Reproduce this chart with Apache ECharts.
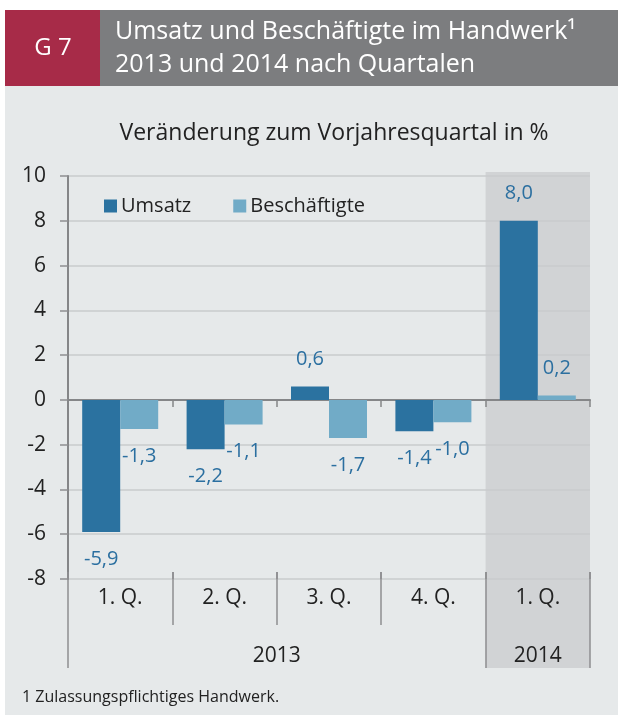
<!DOCTYPE html>
<html><head><meta charset="utf-8">
<script src="https://cdn.jsdelivr.net/npm/echarts@6/dist/echarts.min.js"></script>
<style>html,body{margin:0;padding:0;background:#fff}#c{width:618px;height:715px}</style>
</head><body><div id="c"></div>
<script>
const quarters = ['1. Q.', '2. Q.', '3. Q.', '4. Q.', '1. Q.'];
const years = ['2013', '2014'];
const yearSpans = [4, 1];
const umsatz = [-5.9, -2.2, 0.6, -1.4, 8.0];
const beschaeftigte = [-1.3, -1.1, -1.7, -1.0, 0.2];
const yMin = -8, yMax = 10, yStep = 2;

const FONT = '"Open Sans", "Noto Sans", sans-serif';
const C_UMS = '#2b72a0', C_BES = '#71abc7', C_LBL = '#2b6fa0';
const fmt = v => v.toFixed(1).replace('.', ',');

const yearBounds = [0]; yearSpans.forEach(s => yearBounds.push(yearBounds[yearBounds.length-1] + s));
const yearCenters = years.map((y, i) => (yearBounds[i] + yearBounds[i+1]) / 2);

const chart = echarts.init(document.getElementById('c'), null, {renderer: 'canvas'});
const labelCommon = {show: true, color: C_LBL, fontSize: 20, fontFamily: FONT, formatter: p => fmt(p.value), distance: 17};

const option = {
  animation: false,
  textStyle: {fontFamily: FONT},
  grid: {left: 68, right: 28, top: 176, bottom: 136, containLabel: false, outerBoundsMode: 'none'},
  legend: {
    left: 99, top: 191, itemWidth: 13, itemHeight: 13, itemGap: 42,
    icon: 'rect', textStyle: {fontSize: 20, color: '#222', fontFamily: FONT, padding: [0,0,0,-1]},
    data: ['Umsatz', 'Beschäftigte']
  },
  xAxis: [
    {
      type: 'category', data: quarters.map((q,i)=>q+i), position: 'bottom',
      axisLine: {onZero: true, lineStyle: {color: '#858688', width: 2}},
      axisTick: {show: true, length: 7, lineStyle: {color: '#858688', width: 1.5}},
      axisLabel: {show: false}, splitLine: {show: false}
    },
    {
      type: 'category', data: quarters.map((q,i)=>q+i), position: 'bottom',
      axisLine: {onZero: true, show: false},
      axisTick: {show: true, inside: true, length: 7, lineStyle: {color: '#858688', width: 1.5}},
      axisLabel: {show: false}, splitLine: {show: false}
    },
    {
      type: 'category', data: quarters.map((q,i)=>q+i), position: 'bottom', offset: -7,
      axisLine: {onZero: false, show: false},
      axisTick: {show: true, length: 53, lineStyle: {color: '#8e8f91', width: 1.5}},
      axisLabel: {show: true, margin: 16, fontSize: 21, color: '#222', fontFamily: FONT, formatter: v => v.slice(0, -1)}
    },
    {
      type: 'value', min: 0, max: quarters.length, position: 'bottom',
      axisLine: {onZero: false, show: false},
      axisTick: {show: true, length: 89, customValues: yearBounds, lineStyle: {color: '#8e8f91', width: 1.5}},
      axisLabel: {show: true, margin: 67, fontSize: 21, color: '#222', fontFamily: FONT,
        customValues: yearCenters, formatter: v => years[yearCenters.indexOf(v)] || ''},
      splitLine: {show: false}
    }
  ],
  yAxis: {
    type: 'value', min: yMin, max: yMax, interval: yStep,
    axisLine: {show: true, onZero: false, lineStyle: {color: '#858688', width: 2}},
    axisTick: {show: true, length: 8, lineStyle: {color: '#8e8f91', width: 1.5}},
    axisLabel: {margin: 22, fontSize: 21, color: '#222', fontFamily: FONT},
    splitLine: {show: true, lineStyle: {color: '#c8cbcd', width: 1.5}}
  },
  series: [
    {name: 'Umsatz', type: 'bar', data: umsatz, barWidth: 38, barGap: '0%', itemStyle: {color: C_UMS},
      label: Object.assign({}, labelCommon, {position: 'outside'}), z: 3},
    {name: 'Beschäftigte', type: 'bar', data: beschaeftigte, barWidth: 38, barGap: '0%', itemStyle: {color: C_BES},
      label: Object.assign({}, labelCommon, {position: 'outside'}), z: 3}
  ]
};
chart.setOption(option);

const cw = chart.getModel().getComponent('xAxis', 0).axis.getBandWidth();
const lastX = chart.convertToPixel({xAxisIndex: 0}, quarters.length - 1) - cw / 2;
const yTop = chart.convertToPixel({yAxisIndex: 0}, yMax) - 4;
chart.setOption({
  graphic: [
    {type: 'rect', z: -10, silent: true, shape: {x: 5, y: 86, width: 613, height: 629}, style: {fill: '#e6e9ea'}},
    {type: 'rect', z: -9, silent: true, shape: {x: lastX, y: yTop, width: cw, height: 668 - yTop}, style: {fill: '#d1d3d5'}},
    {type: 'rect', z: 1, shape: {x: 5, y: 10, width: 95, height: 76}, style: {fill: '#a72b48'}},
    {type: 'rect', z: 1, shape: {x: 100, y: 10, width: 518, height: 76}, style: {fill: '#7c7d7f'}},
    {type: 'text', z: 2, x: 53, y: 48, style: {text: 'G 7', fill: '#fff', fontSize: 24, fontFamily: FONT, align: 'center', verticalAlign: 'middle'}},
    {type: 'text', z: 2, x: 115, y: 32, style: {text: 'Umsatz und Beschäftigte im Handwerk¹', fill: '#fff', fontSize: 25, fontFamily: FONT, verticalAlign: 'middle'}},
    {type: 'text', z: 2, x: 115, y: 65, style: {text: '2013 und 2014 nach Quartalen', fill: '#fff', fontSize: 25, fontFamily: FONT, verticalAlign: 'middle'}},
    {type: 'text', z: 2, x: 334, y: 133, style: {text: 'Veränderung zum Vorjahresquartal in %', fill: '#222', fontSize: 23, fontFamily: FONT, align: 'center', verticalAlign: 'middle'}},
    {type: 'text', z: 2, x: 22, y: 697, style: {text: '1 Zulassungspflichtiges Handwerk.', fill: '#222', fontSize: 16, fontFamily: FONT, verticalAlign: 'middle'}}
  ]
});
</script></body></html>
